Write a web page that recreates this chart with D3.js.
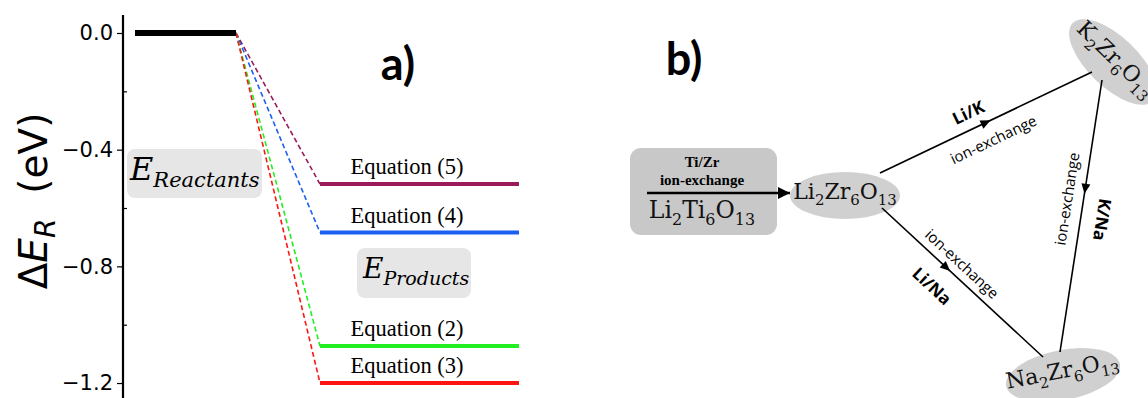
<!DOCTYPE html>
<html>
<head>
<meta charset="utf-8">
<script src="https://cdn.jsdelivr.net/npm/d3@7"></script>
<style>
  body { margin: 0; background: #fff; }
  svg { display: block; }
</style>
</head>
<body>
<svg id="chart" width="1148" height="398"></svg>
<script>
// panel a) : energy levels
const levelLabels = ["Equation (5)", "Equation (4)", "Equation (2)", "Equation (3)"];
const levelValues = [-0.518, -0.684, -1.073, -1.20];
const levelColors = ["#9b1b5a", "#1a5ff2", "#22ee22", "#ff1414"];
const reactantValue = 0.0;
const majorTicks = [0.0, -0.4, -0.8, -1.2];
const minorTicks = [-0.2, -0.6, -1.0];

// panel b) : ion-exchange scheme
const formulas = {
  lto: [["Li", "2"], ["Ti", "6"], ["O", "13"]],
  lzo: [["Li", "2"], ["Zr", "6"], ["O", "13"]],
  kzo: [["K", "2"], ["Zr", "6"], ["O", "13"]],
  nzo: [["Na", "2"], ["Zr", "6"], ["O", "13"]]
};
const edgeNames = ["Li/K", "K/Na", "Li/Na"];
const exchangeText = "ion-exchange";

const svg = d3.select("#chart");

const y = d3.scaleLinear().domain([0.0617, -1.2513]).range([15, 398]);
const x = d3.scaleLinear().domain([0, 10]).range([123, 1123]);

// eje Y
const axis = svg.append("g")
  .attr("transform", "translate(123,0)")
  .call(d3.axisLeft(y).tickValues(majorTicks).tickFormat(d3.format(".1f")).tickSize(6).tickPadding(4));
axis.select(".domain").remove();
axis.selectAll("line").attr("stroke", "#000").attr("stroke-width", 1.2);
axis.selectAll("text")
  .style("font-family", "'DejaVu Sans', sans-serif")
  .style("font-size", "21px")
  .attr("fill", "#000");

const minor = svg.append("g")
  .attr("transform", "translate(123,0)")
  .call(d3.axisRight(y).tickValues(minorTicks).tickFormat("").tickSize(4));
minor.select(".domain").remove();
minor.selectAll("line").attr("stroke", "#000").attr("stroke-width", 1.2);

svg.append("line")
  .attr("x1", 123).attr("x2", 123)
  .attr("y1", 15).attr("y2", 398)
  .attr("stroke", "#000").attr("stroke-width", 2.2);

// etiqueta del eje
const ylab = svg.append("text")
  .attr("transform", "translate(47,201) rotate(-90)")
  .attr("text-anchor", "middle")
  .style("font-family", "'DejaVu Sans', sans-serif")
  .style("font-size", "39px");
ylab.append("tspan").text("Δ");
ylab.append("tspan").style("font-style", "italic").text("E");
ylab.append("tspan").style("font-style", "italic").style("font-size", "28px").attr("dy", 8).text("R");
ylab.append("tspan").attr("dy", -8).text("\u00a0\u00a0(eV)");

// cajas E
function eLabel(bx, by, bw, bh, tx, ty, big, small, sub) {
  svg.append("rect")
    .attr("x", bx).attr("y", by).attr("width", bw).attr("height", bh)
    .attr("rx", 8).attr("fill", "#e6e6e6");
  const t = svg.append("text")
    .attr("x", tx).attr("y", ty)
    .style("font-family", "'DejaVu Serif', serif")
    .style("font-style", "italic")
    .style("font-size", big + "px");
  t.append("tspan").text("E");
  t.append("tspan").attr("dy", 7).style("font-size", small + "px").text(sub);
}
eLabel(127, 149, 135, 49, 130, 180, 32, 21, "Reactants");
eLabel(357, 248, 114, 50, 363, 278, 28, 19, "Products");

// líneas discontinuas
levelValues.forEach((v, i) => {
  svg.append("line")
    .attr("x1", x(1.13)).attr("y1", y(reactantValue))
    .attr("x2", x(1.97)).attr("y2", y(v))
    .attr("stroke", levelColors[i])
    .attr("stroke-width", 1.6)
    .attr("stroke-dasharray", "5,3");
});

// nivel de reactivos
svg.append("line")
  .attr("x1", x(0.12)).attr("x2", x(1.13))
  .attr("y1", y(reactantValue)).attr("y2", y(reactantValue))
  .attr("stroke", "#000").attr("stroke-width", 6);

// niveles de productos
svg.selectAll(".level")
  .data(levelValues)
  .enter()
  .append("line")
  .attr("class", "level")
  .attr("x1", x(1.97)).attr("x2", x(3.96))
  .attr("y1", d => y(d)).attr("y2", d => y(d))
  .attr("stroke", (d, i) => levelColors[i])
  .attr("stroke-width", 4);

svg.selectAll(".level-label")
  .data(levelValues)
  .enter()
  .append("text")
  .attr("class", "level-label")
  .attr("x", x(2.84))
  .attr("y", d => y(d) - 10)
  .attr("text-anchor", "middle")
  .style("font-family", "'Liberation Serif', serif")
  .style("font-size", "22.5px")
  .text((d, i) => levelLabels[i]);

// letras de panel
svg.append("text").attr("x", 398).attr("y", 80).attr("text-anchor", "middle")
  .style("font-family", "Lato, sans-serif").style("font-weight", 700).style("font-size", "45px")
  .text("a)");
svg.append("text").attr("x", 684).attr("y", 75).attr("text-anchor", "middle")
  .style("font-family", "Lato, sans-serif").style("font-weight", 700).style("font-size", "45px")
  .text("b)");

// ---- panel b ----
function formula(parent, parts, size) {
  const t = parent.append("text")
    .attr("text-anchor", "middle")
    .style("font-family", "'DejaVu Serif', serif")
    .style("font-size", size + "px")
    .attr("fill", "#111");
  const shift = size * 0.28;
  parts.forEach(([base, sub], i) => {
    t.append("tspan").attr("dy", i ? -shift : 0).text(base);
    t.append("tspan").attr("dy", shift).style("font-size", (size * 0.68) + "px").text(sub);
  });
  return t;
}

const defs = svg.append("defs");
defs.append("marker")
  .attr("id", "bigArrow")
  .attr("viewBox", "0 0 10 10")
  .attr("refX", 10).attr("refY", 5)
  .attr("markerWidth", 5).attr("markerHeight", 5)
  .attr("markerUnits", "strokeWidth")
  .attr("orient", "auto")
  .append("path").attr("d", "M0,0 L10,5 L0,10 Z").attr("fill", "#000");

// caja Li2Ti6O13
svg.append("rect")
  .attr("x", 630).attr("y", 148).attr("width", 147).attr("height", 87)
  .attr("rx", 11).attr("fill", "#c8c8c8");
svg.append("text").attr("x", 702).attr("y", 167).attr("text-anchor", "middle")
  .style("font-family", "'Liberation Serif', serif").style("font-weight", 700).style("font-size", "15px")
  .text("Ti/Zr");
svg.append("text").attr("x", 702).attr("y", 185).attr("text-anchor", "middle")
  .style("font-family", "'Liberation Serif', serif").style("font-weight", 700).style("font-size", "15px")
  .text(exchangeText);
svg.append("line")
  .attr("x1", 647).attr("y1", 193).attr("x2", 790).attr("y2", 193)
  .attr("stroke", "#000").attr("stroke-width", 2.4)
  .attr("marker-end", "url(#bigArrow)");
formula(svg, formulas.lto, 23.5).attr("x", 702).attr("y", 218);

// elipses
function node(cx, cy, rx, ry, rot, parts) {
  const g = svg.append("g").attr("transform", `translate(${cx},${cy}) rotate(${rot})`);
  g.append("ellipse").attr("rx", rx).attr("ry", ry).attr("fill", "#d0d0d0");
  formula(g, parts, 22).attr("x", 0).attr("y", 3);
  return g;
}
node(845, 195.5, 55, 23.5, 0, formulas.lzo);
node(1113, 62, 56, 25, 44, formulas.kzo);
node(1063, 375, 58, 25, -11, formulas.nzo);

// aristas del triángulo: nombre y "ion-exchange" a cada lado
// (along = desplazamiento a lo largo de la línea, perp = a un lado)
const edges = [
  { a: [880, 173], b: [1092, 72], t: 0.5, name: edgeNames[0],
    nameAlong: 0, namePerp: -17, exAlong: 11, exPerp: 18, flip: false },
  { a: [1102, 80], b: [1060, 352], t: 0.4, name: edgeNames[1],
    nameAlong: 14, namePerp: -22, exAlong: -1, exPerp: 17, flip: true },
  { a: [882, 208], b: [1043, 357], t: 0.4, name: edgeNames[2],
    nameAlong: -9, namePerp: 23, exAlong: -2, exPerp: -14, flip: false }
];

edges.forEach(e => {
  const [x1, y1] = e.a, [x2, y2] = e.b;
  svg.append("line")
    .attr("x1", x1).attr("y1", y1).attr("x2", x2).attr("y2", y2)
    .attr("stroke", "#000").attr("stroke-width", 1.6);
  const ang = Math.atan2(y2 - y1, x2 - x1) * 180 / Math.PI;
  const mx = x1 + (x2 - x1) * e.t, my = y1 + (y2 - y1) * e.t;
  svg.append("path")
    .attr("d", "M5,0 L-5,-4.5 L-5,4.5 Z")
    .attr("transform", `translate(${mx},${my}) rotate(${ang})`)
    .attr("fill", "#000");

  const cx = x1 + (x2 - x1) * 0.45, cy = y1 + (y2 - y1) * 0.45;
  const g = svg.append("g").attr("transform", `translate(${cx},${cy}) rotate(${ang})`);
  g.append("text")
    .attr("x", e.nameAlong).attr("y", e.namePerp)
    .attr("text-anchor", "middle")
    .attr("dominant-baseline", "central")
    .style("font-family", "'Open Sans', sans-serif")
    .style("font-weight", 700).style("font-size", "17px")
    .text(e.name);
  const s = e.flip ? -1 : 1;
  g.append("text")
    .attr("transform", e.flip ? "rotate(180)" : null)
    .attr("x", s * e.exAlong).attr("y", s * e.exPerp)
    .attr("text-anchor", "middle")
    .attr("dominant-baseline", "central")
    .style("font-family", "'Open Sans', sans-serif")
    .style("font-size", "15px")
    .text(exchangeText);
});
</script>
</body>
</html>
